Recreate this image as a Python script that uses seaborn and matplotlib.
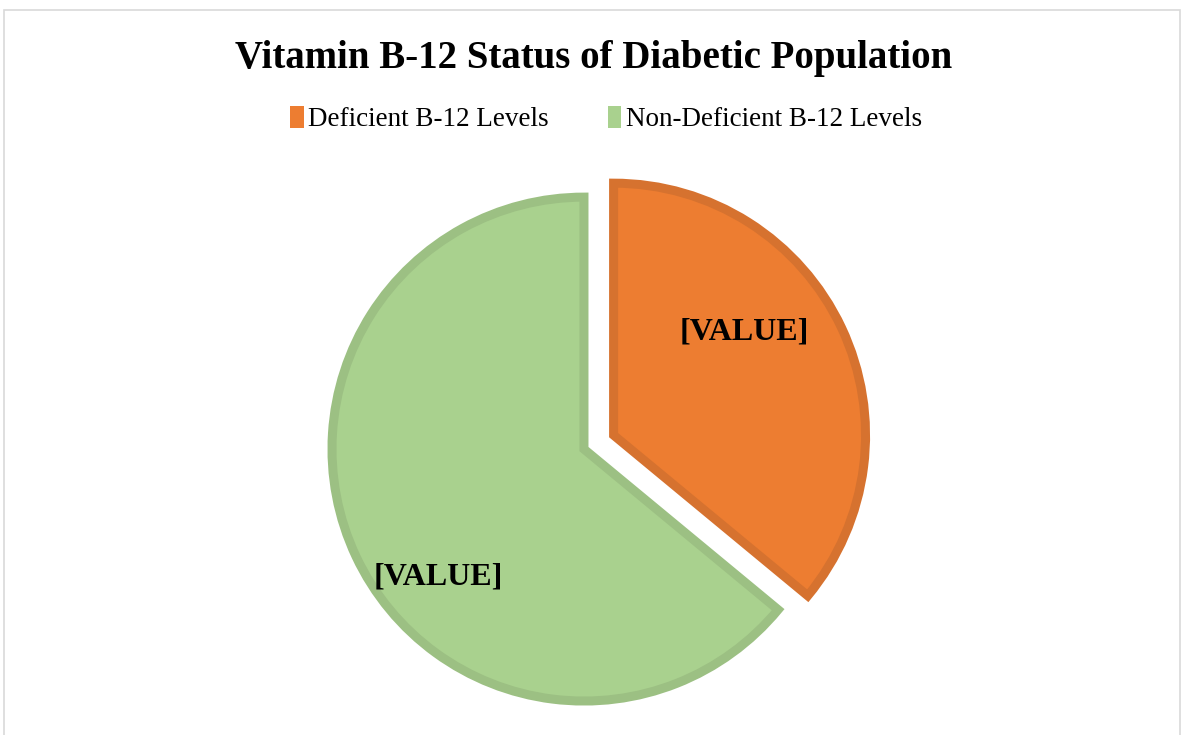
import numpy as np
import matplotlib
matplotlib.use('Agg')
import matplotlib.pyplot as plt
import seaborn as sns
from matplotlib.patches import Patch, Rectangle

# Chart data
categories = ['Deficient B-12 Levels', 'Non-Deficient B-12 Levels']
values = [36, 64]
label_text = ['[VALUE]', '[VALUE]']
fill_colors = ['#ED7D31', '#A9D18E']
edge_colors = ['#D6722F', '#9CC083']

sns.set_theme(style='white')
plt.rcParams['font.family'] = ['Liberation Serif', 'DejaVu Serif']
plt.rcParams['text.color'] = 'black'

fig = plt.figure(figsize=(11.88, 7.35), dpi=100)

# Light grey frame around the chart area
fig.patches.append(Rectangle((0.003, -0.05), 0.990, 1.036, transform=fig.transFigure,
                             fill=False, edgecolor='#d9d9d9', linewidth=1.2))

# Square axes positioned so the pie sits where it does in the picture
ax = fig.add_axes([0.2264, -0.0395, 0.5303, 0.857])
ax.set_xlim(-1.25, 1.25)
ax.set_ylim(-1.25, 1.25)
ax.set_aspect('equal')
ax.axis('off')

wedges, _ = ax.pie(values, explode=[0.13, 0], startangle=90, counterclock=False,
                   colors=fill_colors, radius=1,
                   wedgeprops=dict(linewidth=6.5, joinstyle='miter'))
for w, ec in zip(wedges, edge_colors):
    w.set_edgecolor(ec)
    w.set_clip_on(False)

# Value labels: Excel "best fit" positions, a bit turned from the bisector
label_dist = [0.66, 0.77]
label_turn = [13, 16]
for w, txt, d, turn in zip(wedges, label_text, label_dist, label_turn):
    ang = np.deg2rad((w.theta1 + w.theta2) / 2 + turn)
    cx, cy = w.center
    ax.text(cx + d * np.cos(ang), cy + d * np.sin(ang), txt,
            ha='center', va='center', fontsize=23, fontweight='bold', color='black')

fig.suptitle('Vitamin B-12 Status of Diabetic Population', y=0.946,
             fontsize=28, fontweight='bold', color='black')

handles = [Patch(facecolor=c, edgecolor='none') for c in fill_colors]
fig.legend(handles, categories, loc='center', bbox_to_anchor=(0.51, 0.838), ncol=2,
           frameon=False, fontsize=19.5, handlelength=0.5, handleheight=0.9,
           handletextpad=0.15, columnspacing=2.2, labelcolor='black')

fig.savefig('out.png', dpi=100)
